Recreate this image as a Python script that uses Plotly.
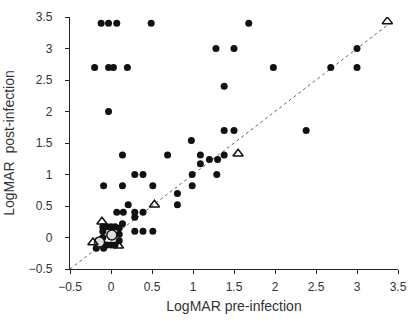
import plotly.graph_objects as go

# Filled dots (individual eyes)
pre_dot = [-0.12, -0.03, 0.07, 0.49, 1.68,
           1.28, 1.50, 3.00,
           -0.20, -0.03, 0.03, 0.20, 1.98, 2.68, 3.00,
           -0.03, 1.38, 1.38, 1.50, 2.38,
           0.98, 0.69, 0.14, 1.38, 1.09, 1.09, 1.20, 1.30,
           0.99, 1.29, 0.29, 0.39,
           -0.09, 0.14, 0.51, 0.99, 0.81, 0.81, 0.21,
           0.07, 0.15, 0.29, 0.39, 0.29, 0.29, 0.39, 0.51,
           0.14, -0.10, -0.05, 0.00, 0.05, 0.10, 0.10, 0.10,
           -0.10, -0.10, 0.00, -0.05, -0.18, -0.09, 0.05]
post_dot = [3.40, 3.40, 3.40, 3.40, 3.40,
            3.00, 3.00, 3.00,
            2.70, 2.70, 2.70, 2.70, 2.70, 2.70, 2.70,
            2.00, 2.40, 1.70, 1.70, 1.70,
            1.54, 1.31, 1.31, 1.31, 1.31, 1.17, 1.24, 1.24,
            1.00, 1.00, 1.00, 1.00,
            0.82, 0.82, 0.82, 0.82, 0.70, 0.52, 0.52,
            0.40, 0.40, 0.40, 0.40, 0.32, 0.10, 0.10, 0.10,
            0.22, 0.17, 0.17, 0.17, 0.17, 0.15, 0.05, -0.05,
            0.10, 0.00, -0.12, -0.12, -0.17, -0.17, -0.12]

# Open triangles
pre_tri = [3.37, 1.55, 0.53, -0.11, -0.22, 0.09]
post_tri = [3.43, 1.33, 0.52, 0.25, -0.08, -0.13]

# Open circles (overlapping points)
pre_circ = [0.01, -0.14]
post_circ = [0.04, -0.07]

# Line of equality
eq_line = [-0.5, 3.4]

ticks = [-0.5, 0, 0.5, 1, 1.5, 2, 2.5, 3, 3.5]
tick_text = ["\u22120.5", "0", "0.5", "1", "1.5", "2", "2.5", "3", "3.5"]

fig = go.Figure()
fig.add_trace(go.Scatter(x=eq_line, y=eq_line, mode="lines",
                         line=dict(color="#666666", width=1, dash="dot"),
                         hoverinfo="skip"))
fig.add_trace(go.Scatter(x=pre_dot, y=post_dot, mode="markers",
                         marker=dict(symbol="circle", size=7, color="#111111")))
fig.add_trace(go.Scatter(x=pre_circ, y=post_circ, mode="markers",
                         marker=dict(symbol="circle", size=10, color="#dddddd",
                                     line=dict(color="#111111", width=1.5))))
fig.add_trace(go.Scatter(x=pre_tri, y=post_tri, mode="markers",
                         marker=dict(symbol="triangle-up-open", size=9, color="#111111",
                                     line=dict(width=1.5))))

axis_common = dict(range=[-0.5, 3.5], tickvals=ticks, ticktext=tick_text,
                   showline=True, linecolor="#222222", linewidth=1.2,
                   ticks="outside", ticklen=4, tickcolor="#222222",
                   showgrid=False, zeroline=False, automargin=False,
                   tickfont=dict(family="Liberation Sans, Arial", size=12, color="#333333"),
                   mirror=False)

fig.update_layout(
    width=410, height=322,
    margin=dict(l=70, r=12, t=17, b=53),
    paper_bgcolor="white", plot_bgcolor="white",
    showlegend=False,
    xaxis=dict(**axis_common, ticklabelstandoff=2,
               title=dict(text="LogMAR pre-infection", standoff=8,
                          font=dict(family="Liberation Sans, Arial", size=14, color="#333333"))),
    yaxis=dict(**axis_common, ticklabelstandoff=10,
               title=dict(text="LogMAR  post-infection", standoff=10,
                          font=dict(family="Liberation Sans, Arial", size=14, color="#333333"))),
)

fig.write_html("out.html",
               config={"displayModeBar": False},
               post_script="document.body.style.margin='0';document.body.style.padding='0';")
